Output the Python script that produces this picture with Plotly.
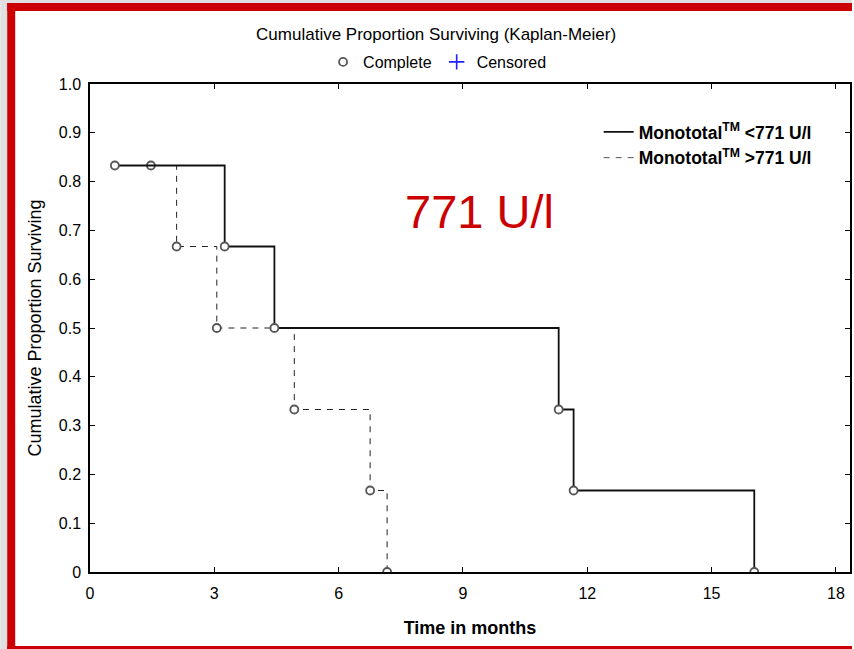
import plotly.graph_objects as go

# ---- data ----
months_low = [0.60, 3.25, 4.45, 11.31, 11.67, 16.03]
surv_low = [0.833, 0.667, 0.5, 0.333, 0.167, 0.0]
months_high = [1.47, 2.09, 3.06, 4.93, 6.76, 7.17]
surv_high = [0.833, 0.667, 0.5, 0.333, 0.167, 0.0]
name_low = "<b>Monototal<sup>TM</sup> &lt;771 U/l</b>"
name_high = "<b>Monototal<sup>TM</sup> &gt;771 U/l</b>"
x_ticks = [0, 3, 6, 9, 12, 15, 18]
y_ticks = [0, 0.1, 0.2, 0.3, 0.4, 0.5, 0.6, 0.7, 0.8, 0.9, 1.0]
y_ticktext = ["0", "0.1", "0.2", "0.3", "0.4", "0.5", "0.6", "0.7", "0.8", "0.9", "1.0"]

W, H = 854, 649
L, R, T, B = 90, 2, 84, 77
PW, PH = W - L - R, H - T - B

def px(x):
    return (x - L) / PW

def py(y):
    return (H - B - y) / PH

FONT = "Liberation Sans, Arial, sans-serif"
RED = "#cc0000"
MK = dict(symbol="circle", size=8, color="white", line=dict(color="#555555", width=1.8))

fig = go.Figure()
fig.add_trace(go.Scatter(x=months_high, y=surv_high, mode="lines+markers", line_shape="hv",
                         line=dict(color="#222", width=1, dash="6px,6px"), marker=MK,
                         showlegend=False, hoverinfo="skip"))
fig.add_trace(go.Scatter(x=months_low, y=surv_low, mode="lines+markers", line_shape="hv",
                         line=dict(color="#111", width=1.8), marker=MK,
                         showlegend=False, hoverinfo="skip"))

# top legend (marker types)
fig.add_trace(go.Scatter(x=[None], y=[None], mode="markers", name="Complete", marker=MK, legend="legend"))
fig.add_trace(go.Scatter(x=[None], y=[None], mode="markers", name="Censored",
                         marker=dict(symbol="cross-thin", size=11, line=dict(color="#2020ff", width=1.6)),
                         legend="legend"))
# in-plot legend (line types)
fig.add_trace(go.Scatter(x=[None], y=[None], mode="lines", name=name_low,
                         line=dict(color="#111", width=1.8), legend="legend2"))
fig.add_trace(go.Scatter(x=[None], y=[None], mode="lines", name=name_high,
                         line=dict(color="#555", width=1, dash="6px,6px"), legend="legend2"))

shapes = [
    # gray outer strips
    dict(type="rect", xref="paper", yref="paper", x0=px(0), x1=px(7), y0=py(0), y1=py(H), fillcolor="#e0e0e0", line_width=0, layer="below"),
    dict(type="rect", xref="paper", yref="paper", x0=px(0), x1=px(W), y0=py(0), y1=py(3), fillcolor="#e0e0e0", line_width=0, layer="below"),
    # red frame
    dict(type="rect", xref="paper", yref="paper", x0=px(7), x1=px(15), y0=py(3), y1=py(H), fillcolor=RED, line_width=0, layer="below"),
    dict(type="rect", xref="paper", yref="paper", x0=px(7), x1=px(W), y0=py(3), y1=py(11), fillcolor=RED, line_width=0, layer="below"),
    dict(type="rect", xref="paper", yref="paper", x0=px(7), x1=px(W), y0=py(646), y1=py(H), fillcolor=RED, line_width=0, layer="below"),
]

fig.update_layout(
    width=W, height=H,
    margin=dict(l=L, r=R, t=T, b=B),
    paper_bgcolor="white", plot_bgcolor="white",
    font=dict(family=FONT, size=16, color="black"),
    shapes=shapes,
    title=dict(text="Cumulative Proportion Surviving (Kaplan-Meier)", font=dict(size=17, color="black"),
               xref="paper", x=px(437), xanchor="center", yref="container", y=1 - 34 / H, yanchor="middle"),
    legend=dict(orientation="h", xref="paper", yref="paper", x=px(438), xanchor="center",
                y=py(62), yanchor="middle", bgcolor="rgba(0,0,0,0)", font=dict(size=16)),
    legend2=dict(xref="paper", yref="paper", x=px(600), xanchor="left", y=py(114), yanchor="top",
                 bgcolor="rgba(0,0,0,0)", font=dict(size=17.5), tracegroupgap=0),
    xaxis=dict(range=[0, 18.34], tickvals=x_ticks, ticks="inside", ticklen=5, tickcolor="black",
               showline=True, linecolor="black", linewidth=1.5, mirror="ticks", showgrid=False, zeroline=False,
               tickfont=dict(size=16), ticklabelstandoff=6,
               title=dict(text="<b>Time in months</b>", font=dict(size=18), standoff=20)),
    yaxis=dict(range=[0, 1.0], tickvals=y_ticks, ticktext=y_ticktext, ticks="inside", ticklen=5, tickcolor="black",
               showline=True, linecolor="black", linewidth=1.5, mirror="ticks", showgrid=False, zeroline=False,
               tickfont=dict(size=16), ticklabelstandoff=4,
               title=dict(text="Cumulative Proportion Surviving", font=dict(size=18), standoff=12)),
    annotations=[dict(text="771 U/l", xref="paper", yref="paper", x=px(481), y=py(211),
                      xanchor="center", yanchor="middle", showarrow=False,
                      font=dict(size=47, color=RED, family=FONT))],
)

fig.write_html("out.html")
